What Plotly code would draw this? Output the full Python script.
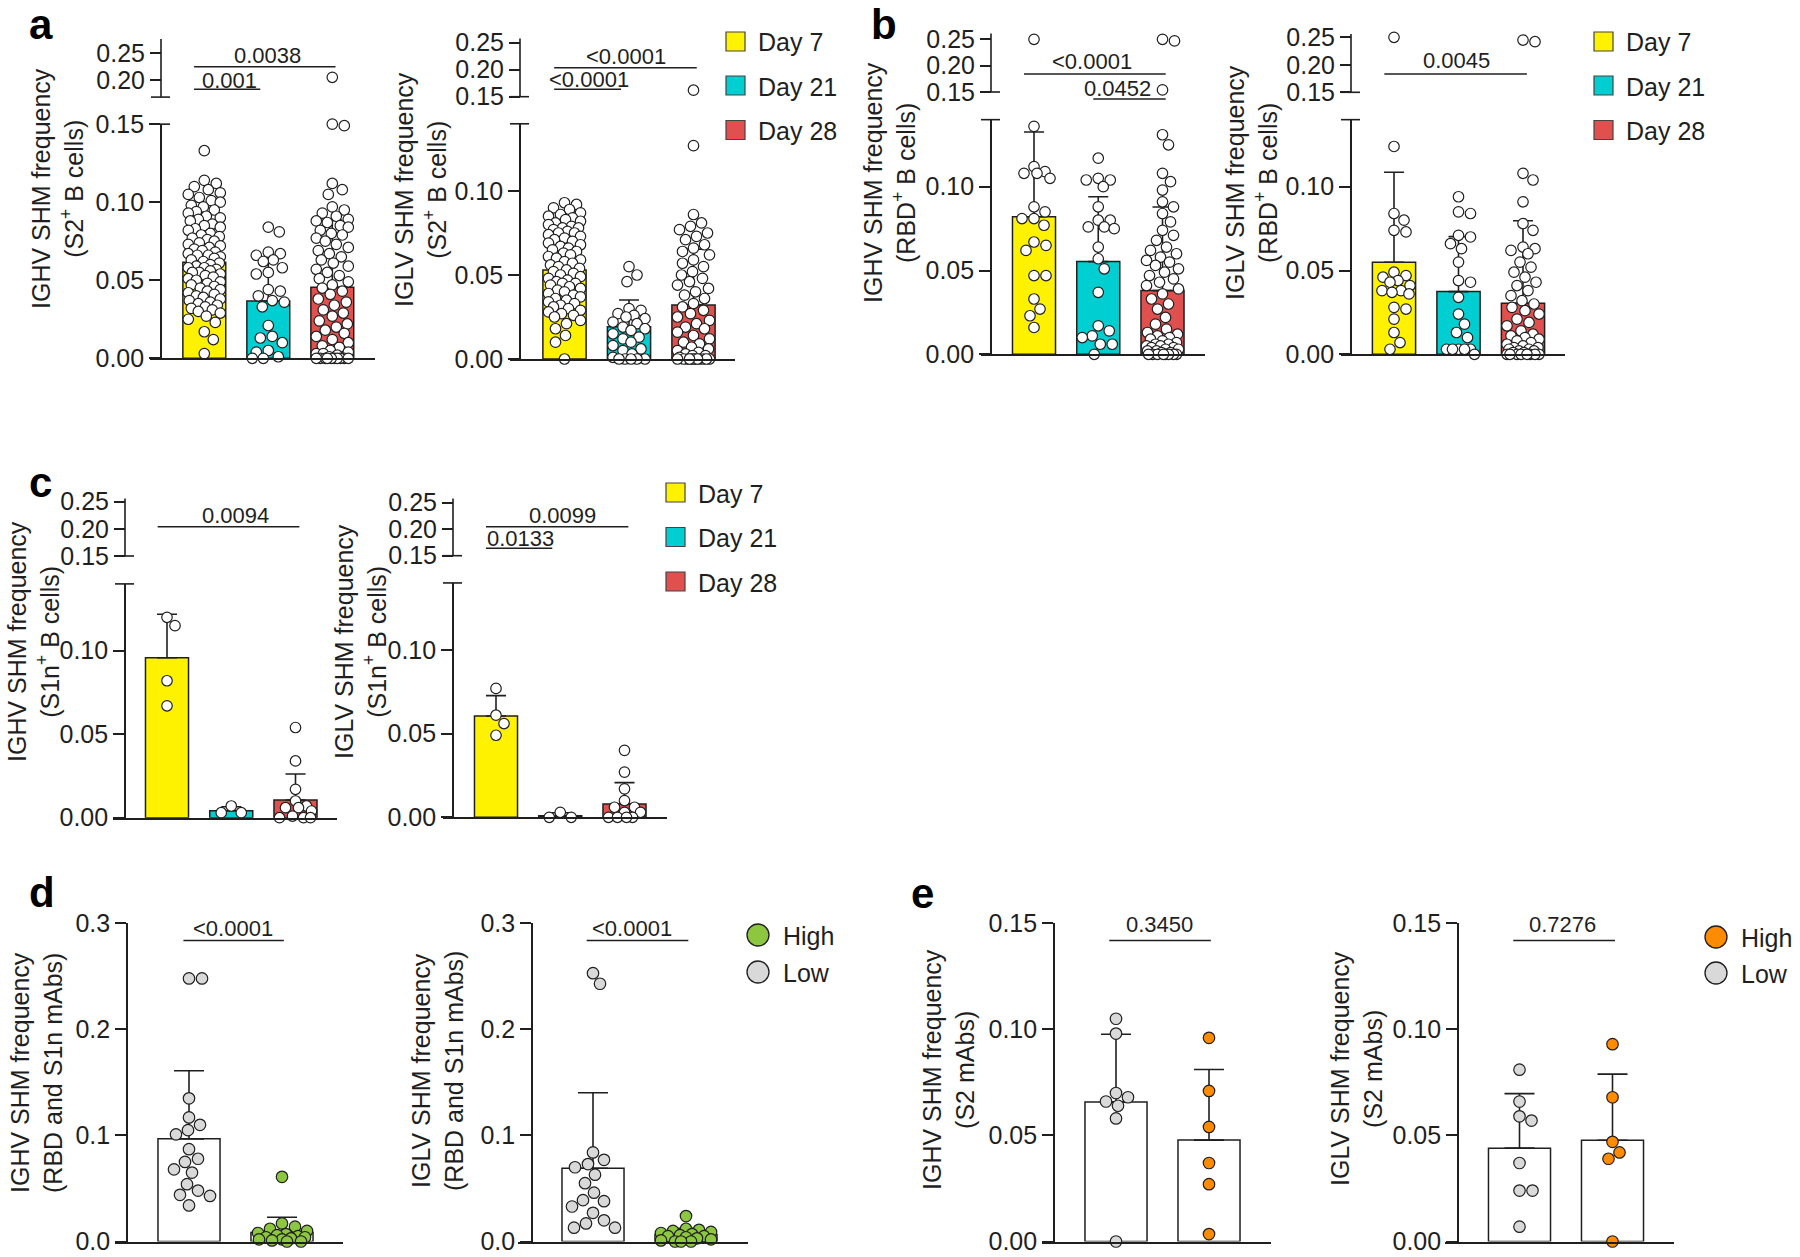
import plotly.graph_objects as go

W, H = 1800, 1257
FONT = "Arial, Liberation Sans, Helvetica, sans-serif"
INK = "#1f1f1f"
LW = 1.6

# ---------------- data ----------------
day_labels = ["Day 7", "Day 21", "Day 28"]
day_colors = ["#FFF200", "#00CED1", "#E0504E"]
hl_labels = ["High", "Low"]
low_color = "#D9D9D9"
high_color_d = "#8DC63F"
high_color_e = "#FF8C00"

# panel a : S2+ B cells
a_ighv_day7 = [0.133, 0.114, 0.112, 0.110, 0.108, 0.106, 0.105, 0.103, 0.101, 0.100, 0.098, 0.097,
               0.095, 0.094, 0.093, 0.091, 0.090, 0.089, 0.088, 0.086, 0.085, 0.084, 0.083, 0.082,
               0.080, 0.079, 0.078, 0.077, 0.076, 0.075, 0.074, 0.073, 0.072, 0.071, 0.070, 0.069,
               0.068, 0.067, 0.066, 0.066, 0.065, 0.064, 0.063, 0.062, 0.061, 0.060, 0.059, 0.058,
               0.058, 0.057, 0.056, 0.055, 0.055, 0.054, 0.053, 0.052, 0.051, 0.050, 0.049, 0.048,
               0.047, 0.046, 0.045, 0.044, 0.043, 0.042, 0.041, 0.040, 0.039, 0.038, 0.037, 0.036,
               0.035, 0.034, 0.033, 0.032, 0.031, 0.030, 0.029, 0.027, 0.025, 0.023, 0.017, 0.012, 0.003]
a_ighv_day21 = [0.084, 0.081, 0.068, 0.067, 0.066, 0.063, 0.062, 0.058, 0.055, 0.054, 0.044, 0.043,
                0.040, 0.037, 0.036, 0.033, 0.021, 0.014, 0.013, 0.010, 0.005, 0.004, 0.001, 0.0, 0.0]
a_ighv_day28 = [0.205, 0.150, 0.149, 0.112, 0.108, 0.105, 0.097, 0.095, 0.093, 0.091, 0.089, 0.088,
                0.087, 0.085, 0.084, 0.082, 0.080, 0.079, 0.077, 0.075, 0.073, 0.071, 0.069, 0.067,
                0.065, 0.063, 0.061, 0.059, 0.057, 0.055, 0.053, 0.051, 0.049, 0.047, 0.045, 0.043,
                0.041, 0.038, 0.036, 0.034, 0.031, 0.029, 0.027, 0.024, 0.022, 0.020, 0.018, 0.016,
                0.014, 0.012, 0.010, 0.008, 0.007, 0.005, 0.004, 0.003, 0.003, 0.002, 0.001,
                0.0, 0.0, 0.0, 0.0, 0.0, 0.0, 0.0, 0.0, 0.0, 0.0]
a_ighv_mean = [0.0615, 0.0367, 0.0455]
a_ighv_sd = [0.0250, 0.0273, 0.0431]
a_ighv_p = ["0.0038", "0.001"]

a_iglv_day7 = [0.093, 0.092, 0.090, 0.089, 0.087, 0.086, 0.085, 0.084, 0.083, 0.082, 0.081, 0.080,
               0.079, 0.078, 0.078, 0.077, 0.076, 0.075, 0.075, 0.074, 0.073, 0.072, 0.071, 0.070,
               0.069, 0.068, 0.067, 0.066, 0.065, 0.064, 0.063, 0.062, 0.061, 0.060, 0.059, 0.058,
               0.057, 0.056, 0.055, 0.054, 0.053, 0.052, 0.051, 0.050, 0.049, 0.048, 0.047, 0.046,
               0.045, 0.045, 0.044, 0.043, 0.042, 0.041, 0.040, 0.039, 0.038, 0.037, 0.036, 0.035,
               0.034, 0.033, 0.032, 0.031, 0.030, 0.029, 0.028, 0.027, 0.026, 0.025, 0.023, 0.021,
               0.018, 0.014, 0.010, 0.0]
a_iglv_day21 = [0.055, 0.050, 0.046, 0.030, 0.029, 0.027, 0.026, 0.025, 0.024, 0.022, 0.021, 0.019,
                0.018, 0.017, 0.015, 0.013, 0.012, 0.010, 0.008, 0.006, 0.005, 0.003, 0.001,
                0.0, 0.0, 0.0, 0.0, 0.0]
a_iglv_day28 = [0.162, 0.127, 0.086, 0.081, 0.079, 0.077, 0.075, 0.073, 0.071, 0.068, 0.066, 0.064,
                0.062, 0.059, 0.057, 0.055, 0.052, 0.050, 0.048, 0.046, 0.044, 0.042, 0.040, 0.038,
                0.036, 0.033, 0.031, 0.029, 0.027, 0.025, 0.023, 0.021, 0.019, 0.018, 0.016, 0.014,
                0.012, 0.010, 0.009, 0.007, 0.006, 0.005, 0.004, 0.003, 0.002, 0.002, 0.001,
                0.0, 0.0, 0.0, 0.0, 0.0, 0.0, 0.0, 0.0, 0.0, 0.0, 0.0, 0.0]
a_iglv_mean = [0.0530, 0.0192, 0.0321]
a_iglv_sd = [0.0220, 0.0159, 0.0332]
a_iglv_p = ["<0.0001", "<0.0001"]

# panel b : RBD+ B cells
b_ighv_day7 = [0.250, 0.136, 0.112, 0.109, 0.108, 0.108, 0.105, 0.088, 0.085, 0.081, 0.081, 0.077,
               0.067, 0.065, 0.062, 0.047, 0.047, 0.033, 0.027, 0.023, 0.016]
b_ighv_day21 = [0.117, 0.105, 0.104, 0.104, 0.100, 0.088, 0.080, 0.080, 0.076, 0.076, 0.075, 0.064,
                0.057, 0.051, 0.037, 0.017, 0.014, 0.011, 0.010, 0.006, 0.006, 0.0]
b_ighv_day28 = [0.250, 0.247, 0.154, 0.131, 0.125, 0.108, 0.103, 0.098, 0.091, 0.088, 0.084, 0.079,
                0.074, 0.071, 0.068, 0.064, 0.062, 0.060, 0.058, 0.056, 0.055, 0.053, 0.051, 0.049,
                0.047, 0.045, 0.043, 0.041, 0.039, 0.036, 0.033, 0.030, 0.027, 0.022, 0.018, 0.015,
                0.013, 0.012, 0.011, 0.010, 0.009, 0.008, 0.007, 0.006, 0.006, 0.005, 0.005, 0.004,
                0.004, 0.003, 0.003, 0.002, 0.002, 0.001, 0.001, 0.0, 0.0, 0.0, 0.0, 0.0, 0.0, 0.0, 0.0]
b_ighv_mean = [0.0821, 0.0553, 0.0380]
b_ighv_sd = [0.0505, 0.0387, 0.0499]
b_ighv_p = ["<0.0001", "0.0452"]

b_iglv_day7 = [0.250, 0.124, 0.084, 0.080, 0.074, 0.073, 0.049, 0.047, 0.046, 0.044, 0.043, 0.041,
               0.038, 0.038, 0.037, 0.036, 0.028, 0.027, 0.021, 0.013, 0.007, 0.003]
b_iglv_day21 = [0.094, 0.085, 0.084, 0.071, 0.070, 0.066, 0.063, 0.055, 0.044, 0.043, 0.034, 0.024,
                0.018, 0.013, 0.010, 0.003, 0.003, 0.003, 0.003, 0.003, 0.0]
b_iglv_day28 = [0.245, 0.242, 0.108, 0.104, 0.091, 0.078, 0.074, 0.064, 0.063, 0.062, 0.060, 0.055,
                0.052, 0.049, 0.046, 0.043, 0.041, 0.038, 0.035, 0.032, 0.030, 0.028, 0.026, 0.024,
                0.021, 0.019, 0.017, 0.014, 0.012, 0.011, 0.010, 0.009, 0.008, 0.007, 0.006, 0.005,
                0.004, 0.004, 0.003, 0.003, 0.002, 0.002, 0.001, 0.001,
                0.0, 0.0, 0.0, 0.0, 0.0, 0.0, 0.0, 0.0]
b_iglv_mean = [0.0549, 0.0374, 0.0304]
b_iglv_sd = [0.0537, 0.0328, 0.0493]
b_iglv_p = ["0.0045"]

# panel c : S1n+ B cells
c_ighv_day7 = [0.120, 0.115, 0.082, 0.067]
c_ighv_day21 = [0.007, 0.003, 0.003]
c_ighv_day28 = [0.054, 0.034, 0.017, 0.010, 0.007, 0.006, 0.006, 0.004, 0.001, 0.0, 0.0, 0.0]
c_ighv_mean = [0.0958, 0.0042, 0.0106]
c_ighv_sd = [0.0260, 0.0024, 0.0156]
c_ighv_p = ["0.0094"]

c_iglv_day7 = [0.077, 0.061, 0.056, 0.049]
c_iglv_day21 = [0.003, 0.0, 0.0]
c_iglv_day28 = [0.040, 0.027, 0.017, 0.010, 0.006, 0.006, 0.003, 0.003, 0.0, 0.0, 0.0, 0.0]
c_iglv_mean = [0.0605, 0.0010, 0.0079]
c_iglv_sd = [0.0122, 0.0017, 0.0128]
c_iglv_p = ["0.0099", "0.0133"]

# panel d : RBD and S1n mAbs (Low, High)
d_ighv_low = [0.248, 0.248, 0.135, 0.117, 0.110, 0.105, 0.101, 0.087, 0.078, 0.075, 0.068, 0.065,
              0.054, 0.048, 0.044, 0.043, 0.034]
d_ighv_high = [0.061, 0.017, 0.014, 0.012, 0.010, 0.008, 0.007, 0.006, 0.005, 0.004, 0.004, 0.003,
               0.002, 0.002, 0.001, 0.0, 0.0]
d_ighv_mean = [0.0968, 0.0085]
d_ighv_sd = [0.0642, 0.0143]
d_ighv_p = ["<0.0001"]

d_iglv_low = [0.253, 0.243, 0.084, 0.077, 0.073, 0.070, 0.063, 0.055, 0.046, 0.039, 0.038, 0.033,
              0.027, 0.020, 0.017, 0.013, 0.013]
d_iglv_high = [0.024, 0.012, 0.011, 0.010, 0.009, 0.008, 0.007, 0.006, 0.005, 0.005, 0.004, 0.003,
               0.002, 0.001, 0.0, 0.0, 0.0]
d_iglv_mean = [0.0690, 0.0065]
d_iglv_sd = [0.0713, 0.0060]
d_iglv_p = ["<0.0001"]

# panel e : S2 mAbs (Low, High)
e_ighv_low = [0.105, 0.098, 0.070, 0.068, 0.066, 0.064, 0.058, 0.0]
e_ighv_high = [0.096, 0.071, 0.054, 0.037, 0.027, 0.0035]
e_ighv_mean = [0.0658, 0.0478]
e_ighv_sd = [0.0319, 0.0333]
e_ighv_p = ["0.3450"]

e_iglv_low = [0.081, 0.066, 0.059, 0.057, 0.037, 0.024, 0.024, 0.007]
e_iglv_high = [0.093, 0.068, 0.047, 0.042, 0.039, 0.0]
e_iglv_mean = [0.0440, 0.0477]
e_iglv_sd = [0.0257, 0.0312]
e_iglv_p = ["0.7276"]

# ---------------- layout geometry (pixels of the 1800x1257 canvas) ----------------
ABC = dict(barw=0.67, cap=10, msize=10.5, diam=11.5, maxoff=16, fmt=".2f")
DE = dict(barw=0.667, cap=15, msize=11.5, diam=12.5, maxoff=25)
D_Y0, D_TOP = 1241.5, 923.3      # bottom row: pixel of 0 and of the axis top
S_D = (D_Y0 - D_TOP) / 0.3
S_E = (D_Y0 - D_TOP) / 0.15

panels = [
    dict(groups=[a_ighv_day7, a_ighv_day21, a_ighv_day28], means=a_ighv_mean, sds=a_ighv_sd,
         bar_fill=day_colors, pt_fill=["white"] * 3,
         xl=150, ax=161, xr=375, c0=204.3, dx=64, y0=358.3, s=1561, lmax=0.15,
         lticks=[0, 0.05, 0.10, 0.15],
         upper=dict(vref=0.20, pref=80.0, su=534, vbot=0.168, vtop=0.277, ticks=[0.20, 0.25]),
         sig=list(zip(a_ighv_p, [(-0.16, 2.05, 0.2249, 0.99, 0.2468), (-0.16, 0.875, 0.1826, 0.40, 0.200)])),
         title="IGHV SHM frequency<br>(S2<sup>+</sup> B cells)", tpos=(57, 189), **ABC),
    dict(groups=[a_iglv_day7, a_iglv_day21, a_iglv_day28], means=a_iglv_mean, sds=a_iglv_sd,
         bar_fill=day_colors, pt_fill=["white"] * 3,
         xl=510, ax=520, xr=735, c0=564.5, dx=64.5, y0=359, s=1680, lmax=0.14,
         lticks=[0, 0.05, 0.10],
         upper=dict(vref=0.15, pref=96.7, su=540, vbot=0.15, vtop=0.258, ticks=[0.15, 0.20, 0.25]),
         sig=list(zip(a_iglv_p, [(-0.16, 2.05, 0.2037, 0.96, 0.2241), (-0.16, 0.876, 0.1637, 0.385, 0.181)])),
         title="IGLV SHM frequency<br>(S2<sup>+</sup> B cells)", tpos=(420, 190), **ABC),
    dict(groups=[b_ighv_day7, b_ighv_day21, b_ighv_day28], means=b_ighv_mean, sds=b_ighv_sd,
         bar_fill=day_colors, pt_fill=["white"] * 3,
         xl=981, ax=991, xr=1205, c0=1034, dx=64.25, y0=354.3, s=1676, lmax=0.14,
         lticks=[0, 0.05, 0.10],
         upper=dict(vref=0.15, pref=92.0, su=527, vbot=0.15, vtop=0.261, ticks=[0.15, 0.20, 0.25]),
         sig=list(zip(b_ighv_p, [(-0.156, 2.05, 0.1842, 0.90, 0.2075), (0.923, 2.05, 0.1367, 1.295, 0.157)])),
         title="IGHV SHM frequency<br>(RBD<sup>+</sup> B cells)", tpos=(889, 183), **ABC),
    dict(groups=[b_iglv_day7, b_iglv_day21, b_iglv_day28], means=b_iglv_mean, sds=b_iglv_sd,
         bar_fill=day_colors, pt_fill=["white"] * 3,
         xl=1341, ax=1351, xr=1565, c0=1394, dx=64.5, y0=354.3, s=1676, lmax=0.14,
         lticks=[0, 0.05, 0.10],
         upper=dict(vref=0.15, pref=92.3, su=550, vbot=0.15, vtop=0.256, ticks=[0.15, 0.20, 0.25]),
         sig=list(zip(b_iglv_p, [(-0.15, 2.06, 0.1833, 0.97, 0.2087)])),
         title="IGLV SHM frequency<br>(RBD<sup>+</sup> B cells)", tpos=(1251, 183), **ABC),
    dict(groups=[c_ighv_day7, c_ighv_day21, c_ighv_day28], means=c_ighv_mean, sds=c_ighv_sd,
         bar_fill=day_colors, pt_fill=["white"] * 3,
         xl=113, ax=125, xr=337, c0=167, dx=64.25, y0=817.7, s=1670, lmax=0.14,
         lticks=[0, 0.05, 0.10],
         upper=dict(vref=0.15, pref=556.0, su=543, vbot=0.15, vtop=0.256, ticks=[0.15, 0.20, 0.25]),
         sig=list(zip(c_ighv_p, [(-0.145, 2.06, 0.2040, 1.07, 0.2255)])),
         title="IGHV SHM frequency<br>(S1n<sup>+</sup> B cells)", tpos=(34, 642), **ABC),
    dict(groups=[c_iglv_day7, c_iglv_day21, c_iglv_day28], means=c_iglv_mean, sds=c_iglv_sd,
         bar_fill=day_colors, pt_fill=["white"] * 3,
         xl=443, ax=453, xr=667, c0=496, dx=64.25, y0=817.3, s=1674, lmax=0.14,
         lticks=[0, 0.05, 0.10],
         upper=dict(vref=0.15, pref=555.7, su=530, vbot=0.15, vtop=0.258, ticks=[0.15, 0.20, 0.25]),
         sig=list(zip(c_iglv_p, [(-0.156, 2.06, 0.2047, 1.035, 0.2268), (-0.156, 0.876, 0.1640, 0.386, 0.1828)])),
         title="IGLV SHM frequency<br>(S1n<sup>+</sup> B cells)", tpos=(361, 642), **ABC),
    dict(groups=[d_ighv_low, d_ighv_high], means=d_ighv_mean, sds=d_ighv_sd,
         bar_fill=["white", "white"], pt_fill=[low_color, high_color_d],
         xl=115, ax=127, xr=343, c0=189, dx=93, y0=D_Y0, s=S_D, lmax=0.3,
         lticks=[0, 0.1, 0.2, 0.3], fmt=".1f", upper=None,
         sig=list(zip(d_ighv_p, [(-0.06, 1.02, 0.2838, 0.476, 0.2952)])),
         title="IGHV SHM frequency<br>(RBD and S1n mAbs)", tpos=(36, 1073), **DE),
    dict(groups=[d_iglv_low, d_iglv_high], means=d_iglv_mean, sds=d_iglv_sd,
         bar_fill=["white", "white"], pt_fill=[low_color, high_color_d],
         xl=518, ax=532, xr=748, c0=593, dx=93, y0=D_Y0, s=S_D, lmax=0.3,
         lticks=[0, 0.1, 0.2, 0.3], fmt=".1f", upper=None,
         sig=list(zip(d_iglv_p, [(-0.068, 1.025, 0.2838, 0.42, 0.2952)])),
         title="IGLV SHM frequency<br>(RBD and S1n mAbs)", tpos=(437, 1071), **DE),
    dict(groups=[e_ighv_low, e_ighv_high], means=e_ighv_mean, sds=e_ighv_sd,
         bar_fill=["white", "white"], pt_fill=[low_color, high_color_e],
         xl=1042, ax=1054, xr=1271, c0=1116, dx=93, y0=D_Y0, s=S_E, lmax=0.15,
         lticks=[0, 0.05, 0.10, 0.15], fmt=".2f", upper=None,
         sig=list(zip(e_ighv_p, [(-0.072, 1.02, 0.1419, 0.468, 0.1496)])),
         title="IGHV SHM frequency<br>(S2 mAbs)", tpos=(948, 1069), **DE),
    dict(groups=[e_iglv_low, e_iglv_high], means=e_iglv_mean, sds=e_iglv_sd,
         bar_fill=["white", "white"], pt_fill=[low_color, high_color_e],
         xl=1445, ax=1458, xr=1674, c0=1519.5, dx=93, y0=D_Y0, s=S_E, lmax=0.15,
         lticks=[0, 0.05, 0.10, 0.15], fmt=".2f", upper=None,
         sig=list(zip(e_iglv_p, [(-0.067, 1.027, 0.1419, 0.466, 0.1496)])),
         title="IGLV SHM frequency<br>(S2 mAbs)", tpos=(1356, 1069), **DE),
]

# panel letters: (letter, left px, baseline px); None baseline = pinned to the top edge
letters = [("a", 28, None), ("b", 870, None), ("c", 28, 497), ("d", 28, 907), ("e", 910, 908)]
LETTER_SIZE = 42

legends = [
    dict(kind="square", labels=day_labels, colors=day_colors, x=726, yc=[41.5, 85.5, 130], text_x=756),
    dict(kind="square", labels=day_labels, colors=day_colors, x=1594, yc=[41.5, 85.5, 130], text_x=1624),
    dict(kind="square", labels=day_labels, colors=day_colors, x=666, yc=[492.5, 537, 581.5], text_x=696),
    dict(kind="circle", labels=hl_labels, colors=[high_color_d, low_color], x=758, yc=[935, 972], text_x=781),
    dict(kind="circle", labels=hl_labels, colors=[high_color_e, low_color], x=1716, yc=[937, 973], text_x=1739),
]


def xp(px):
    return px / W


def yp(py):
    return 1 - py / H


def swarm(py_list, diam, max_off):
    """Horizontal offsets (px) so that circles of diameter `diam` do not overlap."""
    order = sorted(range(len(py_list)), key=lambda i: py_list[i])
    cands = [0.0]
    k = 1
    while k <= max_off:
        cands += [float(k), float(-k)]
        k += 1
    placed = []
    offs = [0.0] * len(py_list)
    for i in order:
        y = py_list[i]
        near = [(ox, oy) for ox, oy in placed if abs(oy - y) < diam]
        chosen = None
        best_c, best_d = 0.0, -1.0
        for c in cands:
            md = min((((c - ox) ** 2 + (y - oy) ** 2) ** 0.5 for ox, oy in near), default=1e9)
            if md >= diam:
                chosen = c
                break
            if md > best_d:
                best_d, best_c = md, c
        if chosen is None:
            chosen = best_c
        offs[i] = chosen
        placed.append((chosen, y))
    return offs


fig = go.Figure()
layout = {}
shapes = []
annotations = []
ycount = [0]


def new_y():
    ycount[0] += 1
    n = ycount[0]
    return ("y" if n == 1 else f"y{n}"), ("yaxis" if n == 1 else f"yaxis{n}")


tickfont = dict(size=25, color=INK, family=FONT)

for i, P in enumerate(panels):
    xid = "x" if i == 0 else f"x{i + 1}"
    xkey = "xaxis" if i == 0 else f"xaxis{i + 1}"
    ylo, ylo_key = new_y()
    lo_top_px = P["y0"] - P["lmax"] * P["s"]
    layout[ylo_key] = dict(domain=[yp(P["y0"]), yp(lo_top_px)], range=[0, P["lmax"]],
                           anchor="free", position=xp(P["ax"]), showline=True, linecolor=INK,
                           linewidth=LW, ticks="outside", ticklen=11, tickwidth=LW, tickcolor=INK,
                           tickvals=P["lticks"], tickformat=P["fmt"], tickfont=tickfont,
                           ticklabeloverflow="allow",
                           showgrid=False, zeroline=False, automargin=False)
    layout[xkey] = dict(domain=[xp(P["xl"]), xp(P["xr"])],
                        range=[(P["xl"] - P["c0"]) / P["dx"], (P["xr"] - P["c0"]) / P["dx"]],
                        anchor=ylo, showline=True, linecolor=INK, linewidth=LW, ticks="",
                        showticklabels=False, showgrid=False, zeroline=False, automargin=False)
    U = P["upper"]
    yup = None
    if U:
        yup, yup_key = new_y()
        top_line_px = U["pref"] - (U["vtop"] - U["vref"]) * U["su"]
        bot_line_px = U["pref"] - (U["vbot"] - U["vref"]) * U["su"]
        dom_bot_px = lo_top_px - 3
        dom_top_px = top_line_px - 30

        def uval(py, U=U):
            return U["vref"] + (U["pref"] - py) / U["su"]

        layout[yup_key] = dict(domain=[yp(dom_bot_px), yp(dom_top_px)],
                               range=[uval(dom_bot_px), uval(dom_top_px)],
                               anchor="free", position=xp(P["ax"]), showline=False,
                               ticks="outside", ticklen=11, tickwidth=LW, tickcolor=INK,
                               tickvals=U["ticks"], tickformat=P["fmt"], tickfont=tickfont,
                               ticklabeloverflow="allow",
                               showgrid=False, zeroline=False, automargin=False)
        # visible upper axis segment and the two break caps
        shapes.append(dict(type="line", xref="paper", yref="paper", x0=xp(P["ax"]), x1=xp(P["ax"]),
                           y0=yp(bot_line_px), y1=yp(top_line_px), line=dict(color=INK, width=LW)))
        for cap_px in (bot_line_px, lo_top_px):
            shapes.append(dict(type="line", xref="paper", yref="paper", x0=xp(P["ax"] - 10),
                               x1=xp(P["ax"] + 9), y0=yp(cap_px), y1=yp(cap_px),
                               line=dict(color=INK, width=LW)))

    n = len(P["groups"])
    fig.add_trace(go.Bar(
        x=list(range(n)), y=P["means"], width=P["barw"], xaxis=xid, yaxis=ylo,
        marker=dict(color=P["bar_fill"], line=dict(color=INK, width=1.5)),
        error_y=dict(type="data", symmetric=False, array=P["sds"], arrayminus=[0] * n,
                     color=INK, thickness=1.6, width=P["cap"]),
        showlegend=False, hoverinfo="skip"))

    for g, vals in enumerate(P["groups"]):
        is_up = [bool(U) and v > P["lmax"] + 1e-9 for v in vals]
        pys = []
        for v, up in zip(vals, is_up):
            if up:
                pys.append(U["pref"] - (v - U["vref"]) * U["su"])
            else:
                pys.append(P["y0"] - v * P["s"])
        offs = swarm(pys, P["diam"], P["maxoff"])
        for want_up, yid in ((False, ylo), (True, yup)):
            xs = [g + o / P["dx"] for o, u in zip(offs, is_up) if u == want_up]
            ys = [v for v, u in zip(vals, is_up) if u == want_up]
            if not xs:
                continue
            fig.add_trace(go.Scatter(
                x=xs, y=ys, xaxis=xid, yaxis=yid, mode="markers", cliponaxis=False,
                marker=dict(size=P["msize"], color=P["pt_fill"][g], line=dict(color=INK, width=1.2)),
                showlegend=False, hoverinfo="skip"))

    sig_axis = yup if U else ylo
    for label, (x0, x1, yl, tx, ty) in P["sig"]:
        shapes.append(dict(type="line", xref=xid, yref=sig_axis, x0=x0, x1=x1, y0=yl, y1=yl,
                           line=dict(color=INK, width=1.5)))
        annotations.append(dict(xref=xid, yref=sig_axis, x=tx, y=ty, text=label, showarrow=False,
                                xanchor="center", yanchor="middle",
                                font=dict(size=22, color=INK, family=FONT)))

    tx, ty = P["tpos"]
    annotations.append(dict(xref="paper", yref="paper", x=xp(tx), y=yp(ty), text=P["title"],
                            textangle=-90, showarrow=False, xanchor="center", yanchor="middle",
                            font=dict(size=25, color=INK, family=FONT)))

for letter, lx, base in letters:
    if base is None:
        pos = dict(y=1.0, yanchor="top")
    else:
        pos = dict(y=yp(base - 0.35 * LETTER_SIZE), yanchor="middle")
    annotations.append(dict(xref="paper", yref="paper", x=xp(lx), text=f"<b>{letter}</b>",
                            showarrow=False, xanchor="left", borderpad=0,
                            font=dict(size=LETTER_SIZE, color="#000", family=FONT), **pos))

for L in legends:
    for lab, col, yc in zip(L["labels"], L["colors"], L["yc"]):
        if L["kind"] == "square":
            shapes.append(dict(type="rect", xref="paper", yref="paper",
                               x0=xp(L["x"]), x1=xp(L["x"] + 19), y0=yp(yc + 9.5), y1=yp(yc - 9.5),
                               fillcolor=col, line=dict(color="#444", width=1.2)))
        else:
            shapes.append(dict(type="circle", xref="paper", yref="paper",
                               x0=xp(L["x"] - 11), x1=xp(L["x"] + 11), y0=yp(yc + 11), y1=yp(yc - 11),
                               fillcolor=col, line=dict(color=INK, width=1.3)))
        annotations.append(dict(xref="paper", yref="paper", x=xp(L["text_x"]), y=yp(yc + 1),
                                text=lab, showarrow=False, xanchor="left", yanchor="middle",
                                font=dict(size=25, color=INK, family=FONT)))

fig.update_layout(
    template="none",
    width=W, height=H, autosize=False,
    margin=dict(l=0, r=0, t=0, b=0, pad=0, autoexpand=False),
    paper_bgcolor="white", plot_bgcolor="rgba(0,0,0,0)",
    showlegend=False, barmode="overlay",
    font=dict(family=FONT, color=INK),
    shapes=shapes, annotations=annotations,
    **layout)

fig.write_html(
    "out.html",
    config={"displayModeBar": False, "responsive": False},
    post_script=("document.documentElement.style.margin='0px';"
                 "document.body.style.margin='0px';"
                 "document.documentElement.style.overflow='hidden';"
                 "var gd=document.getElementById('{plot_id}');"
                 "gd.style.position='fixed';gd.style.left='0px';gd.style.top='0px';"),
)
